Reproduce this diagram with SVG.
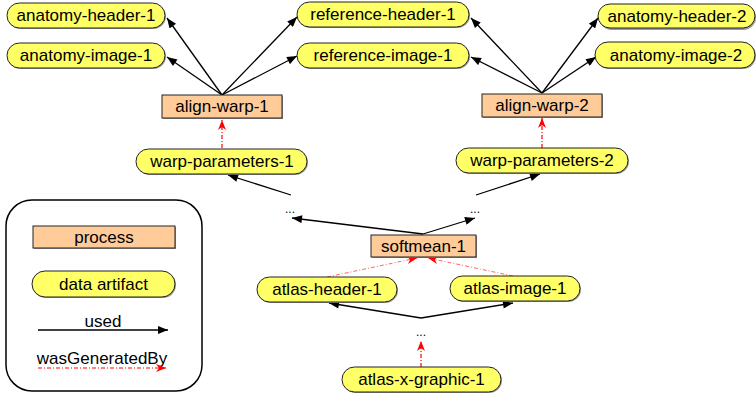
<svg xmlns="http://www.w3.org/2000/svg" width="756" height="394" viewBox="0 0 756 394">
<defs>
<style>
.art{fill:#ffff66;stroke:#222;stroke-width:1}
.proc{fill:#ffcc99;stroke:#222;stroke-width:1}
.sh{fill:#999;stroke:none}
.t{font-family:"Liberation Sans",Arial,sans-serif;font-size:17px;fill:#000;text-anchor:middle;dominant-baseline:central}
.dots{font-family:"Liberation Sans",Arial,sans-serif;font-size:12px;fill:#000;text-anchor:middle}
.used{fill:none;stroke:#000;stroke-width:1.3;marker-end:url(#ab)}
.gen{fill:none;stroke:#f00;stroke-width:1.2;stroke-dasharray:4 2 1 2;marker-end:url(#ar)}
.gen2{fill:none;stroke:#f66;stroke-width:1;stroke-dasharray:4 2 1 2;marker-end:url(#ar)}
</style>
<marker id="ab" viewBox="0 0 10 8" refX="10" refY="4" markerWidth="11" markerHeight="8" markerUnits="userSpaceOnUse" orient="auto">
<path d="M0,0 L10,4 L0,8 Z" fill="#000"/>
</marker>
<marker id="ar" viewBox="0 0 10 8" refX="10" refY="4" markerWidth="11" markerHeight="8" markerUnits="userSpaceOnUse" orient="auto">
<path d="M0,0 L10,4 L0,8 L3,4 Z" fill="#f00"/>
</marker>
</defs>
<rect width="756" height="394" fill="#fff"/>

<g id="connectors">
<line class="used" x1="222" y1="95" x2="167" y2="18"/>
<line class="used" x1="222" y1="95" x2="167" y2="57"/>
<line class="used" x1="222" y1="95" x2="297" y2="17"/>
<line class="used" x1="222" y1="95" x2="297" y2="56"/>
<line class="used" x1="542" y1="93" x2="471" y2="18"/>
<line class="used" x1="542" y1="93" x2="471" y2="57"/>
<line class="used" x1="542" y1="93" x2="598" y2="18"/>
<line class="used" x1="542" y1="93" x2="596" y2="57"/>
<line class="gen" x1="222" y1="148" x2="222" y2="120"/>
<line class="gen" x1="542" y1="148" x2="542" y2="118"/>
<line class="used" x1="291" y1="195" x2="228" y2="175"/>
<line class="used" x1="476" y1="195" x2="540" y2="174"/>
<line class="used" x1="423" y1="234" x2="292" y2="218"/>
<line class="used" x1="423" y1="234" x2="475" y2="218"/>
<line class="gen2" x1="327" y1="277" x2="417" y2="258"/>
<line class="gen2" x1="513" y1="276" x2="428" y2="258"/>
<line class="used" x1="421" y1="318" x2="329" y2="303"/>
<line class="used" x1="421" y1="318" x2="513" y2="303"/>
<line class="gen" x1="421" y1="367" x2="421" y2="341"/>
</g>

<g id="anatomy-header-1"><rect class="sh" x="8" y="4" width="158" height="25" rx="12.5"/><rect class="art" x="7" y="3" width="158" height="25" rx="12.5"/><text class="t" x="86" y="15.5">anatomy-header-1</text></g>
<g id="anatomy-image-1"><rect class="sh" x="8" y="44" width="158" height="25" rx="12.5"/><rect class="art" x="7" y="43" width="158" height="25" rx="12.5"/><text class="t" x="86" y="55.5">anatomy-image-1</text></g>
<g id="reference-header-1"><rect class="sh" x="298" y="3" width="172" height="25" rx="12.5"/><rect class="art" x="297" y="2" width="172" height="25" rx="12.5"/><text class="t" x="383" y="14.5">reference-header-1</text></g>
<g id="reference-image-1"><rect class="sh" x="298" y="44" width="172" height="25" rx="12.5"/><rect class="art" x="297" y="43" width="172" height="25" rx="12.5"/><text class="t" x="383" y="55.5">reference-image-1</text></g>
<g id="anatomy-header-2"><rect class="sh" x="599" y="5" width="157" height="25" rx="12.5"/><rect class="art" x="598" y="4" width="157" height="24" rx="12"/><text class="t" x="677" y="16">anatomy-header-2</text></g>
<g id="anatomy-image-2"><rect class="sh" x="596" y="43" width="160" height="26" rx="13"/><rect class="art" x="595" y="42" width="160" height="26" rx="13"/><text class="t" x="676" y="55">anatomy-image-2</text></g>

<g id="align-warp-1"><rect class="sh" x="163" y="96" width="120" height="23"/><rect class="proc" x="162" y="95" width="120" height="23"/><text class="t" x="222" y="106.5">align-warp-1</text></g>
<g id="align-warp-2"><rect class="sh" x="483" y="95" width="120" height="23"/><rect class="proc" x="482" y="94" width="120" height="23"/><text class="t" x="542" y="105.5">align-warp-2</text></g>

<g id="warp-parameters-1"><rect class="sh" x="137" y="150" width="171" height="25" rx="12.5"/><rect class="art" x="136" y="149" width="171" height="25" rx="12.5"/><text class="t" x="222" y="161.5">warp-parameters-1</text></g>
<g id="warp-parameters-2"><rect class="sh" x="457" y="149" width="172" height="25" rx="12.5"/><rect class="art" x="456" y="148" width="172" height="25" rx="12.5"/><text class="t" x="542" y="160.5">warp-parameters-2</text></g>

<g id="dots-1"><text class="dots" x="290" y="213">...</text></g>
<g id="dots-2"><text class="dots" x="475" y="213">...</text></g>

<g id="softmean-1"><rect class="sh" x="372" y="236" width="105" height="22"/><rect class="proc" x="371" y="235" width="105" height="22"/><text class="t" x="423.5" y="246">softmean-1</text></g>

<g id="atlas-header-1"><rect class="sh" x="258" y="278" width="140" height="25" rx="12.5"/><rect class="art" x="257" y="277" width="140" height="25" rx="12.5"/><text class="t" x="327" y="289.5">atlas-header-1</text></g>
<g id="atlas-image-1"><rect class="sh" x="451" y="277" width="130" height="25" rx="12.5"/><rect class="art" x="450" y="276" width="130" height="25" rx="12.5"/><text class="t" x="515" y="288.5">atlas-image-1</text></g>

<g id="dots-3"><text class="dots" x="421" y="336">...</text></g>

<g id="atlas-x-graphic-1"><rect class="sh" x="343" y="368" width="159" height="25" rx="12.5"/><rect class="art" x="342" y="367" width="159" height="25" rx="12.5"/><text class="t" x="421.5" y="379.5">atlas-x-graphic-1</text></g>

<g id="legend">
<rect x="6" y="200" width="196" height="191" rx="26" fill="#fff" stroke="#000" stroke-width="1.5"/>
<rect class="sh" x="34" y="227" width="142" height="22"/>
<rect class="proc" x="33" y="226" width="142" height="22"/>
<text class="t" x="104" y="237">process</text>
<rect class="sh" x="33" y="272" width="143" height="26" rx="13"/>
<rect class="art" x="32" y="271" width="143" height="26" rx="13"/>
<text class="t" x="103.5" y="284">data artifact</text>
<text class="t" x="103" y="321">used</text>
<line class="used" x1="38" y1="330" x2="168" y2="330"/>
<text class="t" x="102" y="358">wasGeneratedBy</text>
<line class="gen" x1="38" y1="368" x2="166" y2="368"/>
</g>
</svg>
